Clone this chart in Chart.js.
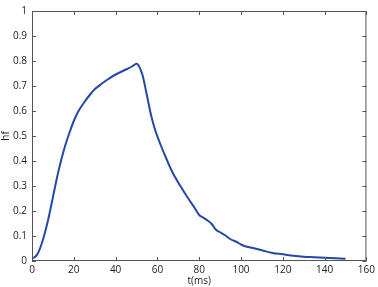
<!DOCTYPE html>
<html>
<head>
<meta charset="utf-8">
<script src="https://cdn.jsdelivr.net/npm/chart.js@4/dist/chart.umd.min.js"></script>
<style>
  html, body { margin: 0; padding: 0; background: #fff; }
  #wrap { width: 378px; height: 287px; }
</style>
</head>
<body>
<div id="wrap"><canvas id="hfChart" width="378" height="287"></canvas></div>
<script>
// time (ms) and hf values
var tValues = [0, 1, 2, 3, 4, 5, 6, 7, 8, 10, 12, 14, 16, 18, 20, 22, 25, 28, 30, 33, 36, 40, 45, 48, 50, 51, 52, 53, 55, 57, 59, 61, 64, 67, 71, 75, 78, 80, 82, 84, 86, 88, 90, 92, 95, 98, 100, 102, 105, 110, 115, 120, 125, 130, 135, 140, 145, 150];
var hfValues = [0.01, 0.014, 0.021, 0.034, 0.054, 0.079, 0.108, 0.14, 0.175, 0.255, 0.335, 0.405, 0.465, 0.515, 0.56, 0.596, 0.635, 0.668, 0.687, 0.707, 0.725, 0.746, 0.766, 0.779, 0.789, 0.782, 0.764, 0.74, 0.662, 0.582, 0.522, 0.476, 0.415, 0.358, 0.3, 0.247, 0.21, 0.184, 0.173, 0.162, 0.148, 0.125, 0.115, 0.105, 0.087, 0.076, 0.066, 0.059, 0.053, 0.043, 0.032, 0.027, 0.021, 0.017, 0.015, 0.013, 0.011, 0.009];
var xTicks = [0, 20, 40, 60, 80, 100, 120, 140, 160];
var yTicks = [0, 0.1, 0.2, 0.3, 0.4, 0.5, 0.6, 0.7, 0.8, 0.9, 1];

var points = tValues.map(function (t, i) { return { x: t, y: hfValues[i] }; });

// frame + inward ticks on all four sides, like the original plot
var frameTicks = {
    id: "frameTicks",
    afterDraw: function (chart) {
        var ctx = chart.ctx, a = chart.chartArea;
        var xs = chart.scales.x, ys = chart.scales.y;
        ctx.save();
        ctx.strokeStyle = "#555";
        ctx.lineWidth = 1;
        ctx.strokeRect(a.left + 0.5, a.top + 0.5, a.right - a.left - 1, a.bottom - a.top - 1);
        ctx.beginPath();
        xTicks.forEach(function (v) {
            var px = Math.round(xs.getPixelForValue(v)) + 0.5;
            ctx.moveTo(px, a.bottom); ctx.lineTo(px, a.bottom - 4);
            ctx.moveTo(px, a.top); ctx.lineTo(px, a.top + 4);
        });
        yTicks.forEach(function (v) {
            var py = Math.round(ys.getPixelForValue(v)) + 0.5;
            ctx.moveTo(a.left, py); ctx.lineTo(a.left + 4, py);
            ctx.moveTo(a.right, py); ctx.lineTo(a.right - 4, py);
        });
        ctx.stroke();
        ctx.restore();
    }
};

var tickFont = { family: "Open Sans", size: 10 };

new Chart(document.getElementById("hfChart").getContext("2d"), {
    type: "line",
    data: {
        datasets: [{
            data: points,
            borderColor: "#2447a8",
            borderWidth: 2,
            pointRadius: 0,
            cubicInterpolationMode: "monotone",
            fill: false
        }]
    },
    options: {
        responsive: false,
        animation: false,
        layout: { padding: { top: 5, right: 7, left: 0, bottom: 0 } },
        plugins: { legend: { display: false }, tooltip: { enabled: false } },
        scales: {
            x: {
                type: "linear",
                min: 0, max: 160,
                afterBuildTicks: function (s) { s.ticks = xTicks.map(function (v) { return { value: v }; }); },
                afterFit: function (s) { s.height = 26; },
                grid: { display: false, drawTicks: false },
                border: { display: false },
                ticks: { color: "#222", font: tickFont, padding: 3, maxRotation: 0, autoSkip: false },
                title: { display: true, text: "t(ms)", color: "#222", font: tickFont, padding: { top: 0, bottom: 0 } }
            },
            y: {
                min: 0, max: 1,
                afterBuildTicks: function (s) { s.ticks = yTicks.map(function (v) { return { value: v }; }); },
                afterFit: function (s) { s.width = 32; },
                grid: { display: false, drawTicks: false },
                border: { display: false },
                ticks: {
                    color: "#222", font: tickFont, padding: 5, autoSkip: false,
                    callback: function (v) { return (v === 0 || v === 1) ? String(v) : v.toFixed(1); }
                },
                title: { display: true, text: "hf", color: "#222", font: tickFont, padding: { top: 0, bottom: 0 } }
            }
        }
    },
    plugins: [frameTicks]
});
</script>
</body>
</html>
